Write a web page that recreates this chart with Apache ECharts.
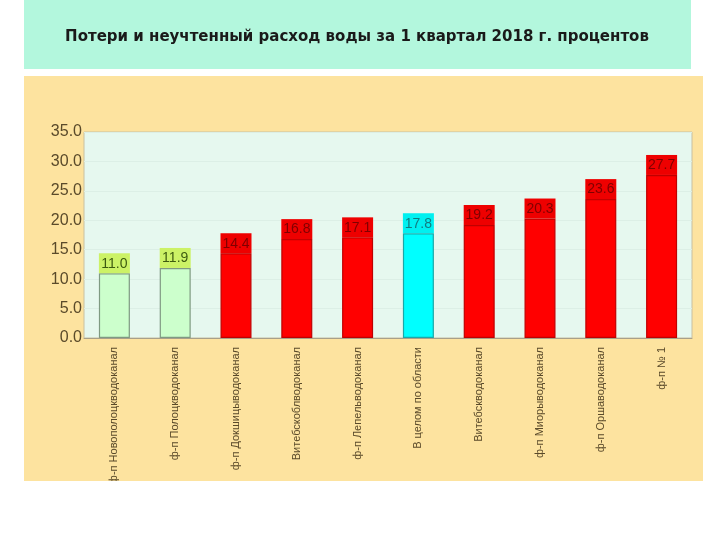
<!DOCTYPE html>
<html><head><meta charset="utf-8">
<script src="https://cdn.jsdelivr.net/npm/echarts@6/dist/echarts.min.js"></script>
<style>html,body{margin:0;padding:0;background:#fff;}#c{width:720px;height:540px;}</style>
</head><body><div id="c"></div>
<script>
const titleText = 'Потери и неучтенный расход воды за 1 квартал 2018 г. процентов';
const categories = ['ф-п Новополоцкводоканал','ф-п Полоцкводоканал','ф-п Докшицыводоканал','Витебскоблводоканал','ф-п Лепельводоканал','В целом по области','Витебскводоканал','ф-п Миорыводоканал','ф-п Оршаводоканал','ф-п № 1'];
const values = [11.0, 11.9, 14.4, 16.8, 17.1, 17.8, 19.2, 20.3, 23.6, 27.7];
const groups = ['low','low','high','high','high','total','high','high','high','high'];
const yTicks = [0, 5, 10, 15, 20, 25, 30, 35];

const styles = {
  low:   {fill:'#ccffcc', border:'#7f9a82', labelBg:'#ccf266', labelColor:'#3d5a10'},
  high:  {fill:'#ff0000', border:'#c00000', labelBg:'#ee0000', labelColor:'#800000'},
  total: {fill:'#00ffff', border:'#1aa8a8', labelBg:'#00f0f0', labelColor:'#127a80'}
};

const chart = echarts.init(document.getElementById('c'), null, {renderer:'canvas'});
chart.setOption({
  backgroundColor:'#ffffff',
  animation:false,
  graphic:[
    {type:'rect', z:-10, shape:{x:24,y:0,width:667,height:69}, style:{fill:'#b3f7dd'}},
    {type:'rect', z:-10, shape:{x:24,y:76,width:679,height:405}, style:{fill:'#fde39f'}},
    {type:'rect', z:100, shape:{x:0,y:481,width:720,height:59}, style:{fill:'#ffffff'}}
  ],
  title:{
    text:titleText, left:352, top:25, textAlign:'center',
    textStyle:{fontFamily:'DejaVu Sans', fontWeight:'bold', fontSize:15, color:'#1a1a1a'}
  },
  grid:{left:84, right:28, top:132, bottom:202, show:true, backgroundColor:'#e6f8ef', borderColor:'#c9c0a0', borderWidth:1},
  xAxis:{
    type:'category', data:categories,
    axisLine:{show:true, lineStyle:{color:'#a8a08a', width:1}},
    axisTick:{show:false},
    axisLabel:{rotate:90, interval:0, margin:9, fontFamily:'Liberation Sans', fontSize:11, color:'#5a4a2a'}
  },
  yAxis:{
    type:'value', min:0, max:35, interval:5,
    axisLine:{show:false}, axisTick:{show:false},
    splitLine:{show:true, lineStyle:{color:'#dcefe6', width:1}},
    axisLabel:{formatter:v=>yTicks.includes(v)?v.toFixed(1):'', margin:2, fontFamily:'Liberation Sans', fontSize:16, color:'#5a4a2a'}
  },
  series:[{
    type:'bar', barWidth:31,
    data: values.map((v,i)=>{
      const s = styles[groups[i]];
      return {
        value:v,
        itemStyle:{color:s.fill, borderColor:s.border, borderWidth:1.2},
        label:{show:true, position:'top', distance:0, formatter:p=>p.value.toFixed(1),
          backgroundColor:s.labelBg, color:s.labelColor, width:31, align:'center',
          padding:[3,0,2,0], lineHeight:15, fontSize:14, fontFamily:'Liberation Sans'}
      };
    })
  }]
});
</script></body></html>
